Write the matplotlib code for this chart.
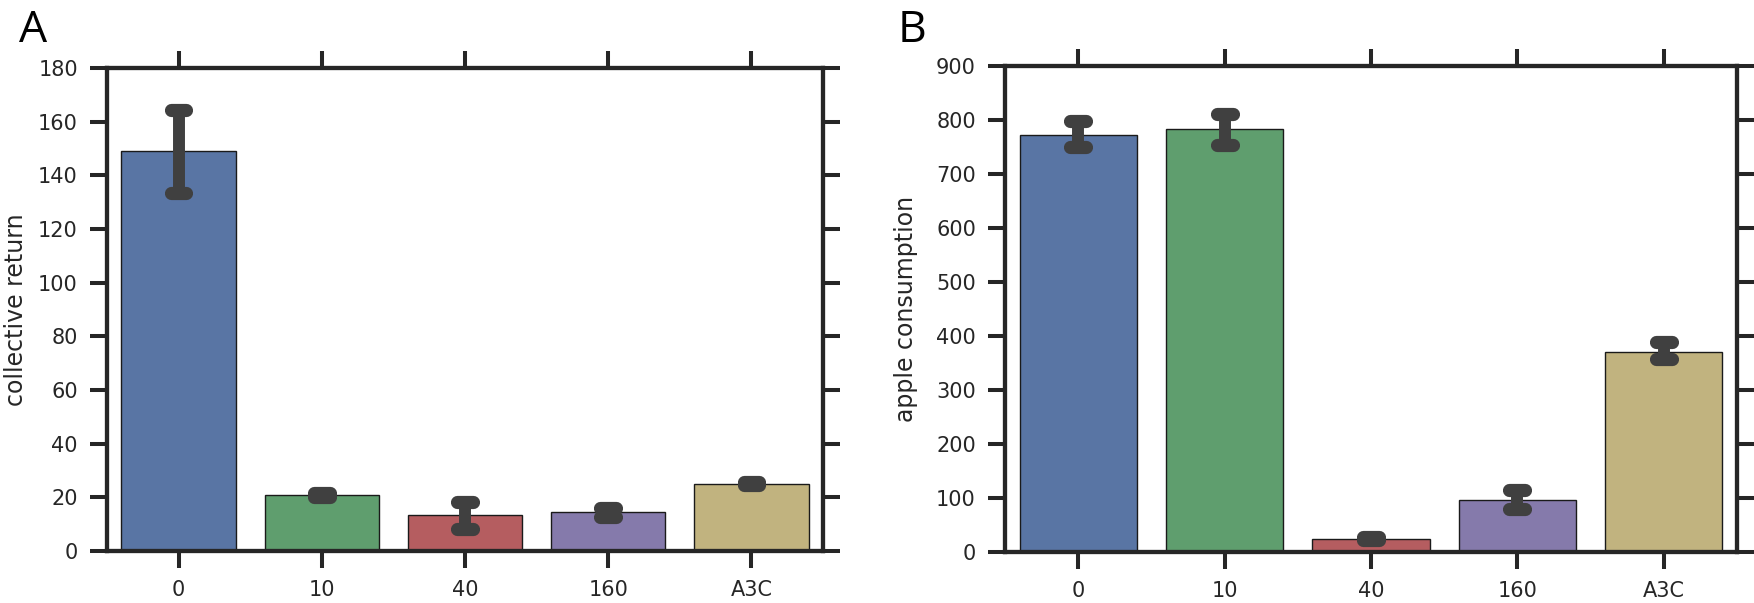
import matplotlib
matplotlib.use("Agg")
import matplotlib.pyplot as plt

# data
categories = ['0', '10', '40', '160', 'A3C']
colors = ['#5975A4', '#5F9E6E', '#B55D60', '#857AAB', '#C1B37F']

ret_mean = [149, 21, 13.3, 14.4, 25.1]
ret_lo = [133.5, 20.3, 8.2, 12.8, 24.6]
ret_hi = [164.5, 21.6, 18.4, 16.1, 25.8]

apple_mean = [772, 784, 24, 97, 371]
apple_lo = [750, 754, 22, 80, 358]
apple_hi = [799, 811, 27, 114, 389]

ink = '#262626'
plt.rcParams['font.family'] = ['DejaVu Sans']
plt.rcParams['xtick.labelsize'] = 15
plt.rcParams['ytick.labelsize'] = 15
plt.rcParams['axes.labelsize'] = 17


def panel(ax, mean, lo, hi, ylim, yticks, ylabel):
    x = range(len(categories))
    ax.bar(x, mean, width=0.8, color=colors, edgecolor='#1a1a1a', linewidth=1.0, zorder=2)
    for i in x:
        ax.plot([i, i], [lo[i], hi[i]], color='#404040', lw=8.6,
                solid_capstyle='butt', zorder=3)
        for y in (lo[i], hi[i]):
            ax.plot([i - 0.055, i + 0.055], [y, y], color='#404040', lw=9.5,
                    solid_capstyle='round', zorder=3)
    ax.set_xlim(-0.5, len(categories) - 0.5)
    ax.set_ylim(*ylim)
    ax.set_yticks(yticks)
    ax.set_xticks(list(x))
    ax.set_xticklabels(categories, color=ink)
    ax.set_ylabel(ylabel, color=ink)
    for s in ax.spines.values():
        s.set_linewidth(3.1)
        s.set_color(ink)
    ax.tick_params(direction='out', length=12, width=2.9, color=ink,
                   labelcolor=ink, top=True, right=True, pad=9)
    ax.tick_params(axis='y', pad=9)


fig = plt.figure(figsize=(17.54, 6.03), dpi=100)
axA = fig.add_axes([0.0610, 0.0862, 0.4082, 0.801])
axB = fig.add_axes([0.5730, 0.0846, 0.4173, 0.806])

panel(axA, ret_mean, ret_lo, ret_hi, (0, 180), range(0, 181, 20), 'collective return')
panel(axB, apple_mean, apple_lo, apple_hi, (0, 900), range(0, 901, 100), 'apple consumption')
axA.yaxis.set_label_coords(-0.11, 0.5)
axB.yaxis.set_label_coords(-0.119, 0.5)

fig.text(0.011, 0.93, 'A', fontsize=32, family='Open Sans', color='black')
fig.text(0.512, 0.93, 'B', fontsize=32, family='Open Sans', color='black')

fig.savefig('out.png', dpi=100)
